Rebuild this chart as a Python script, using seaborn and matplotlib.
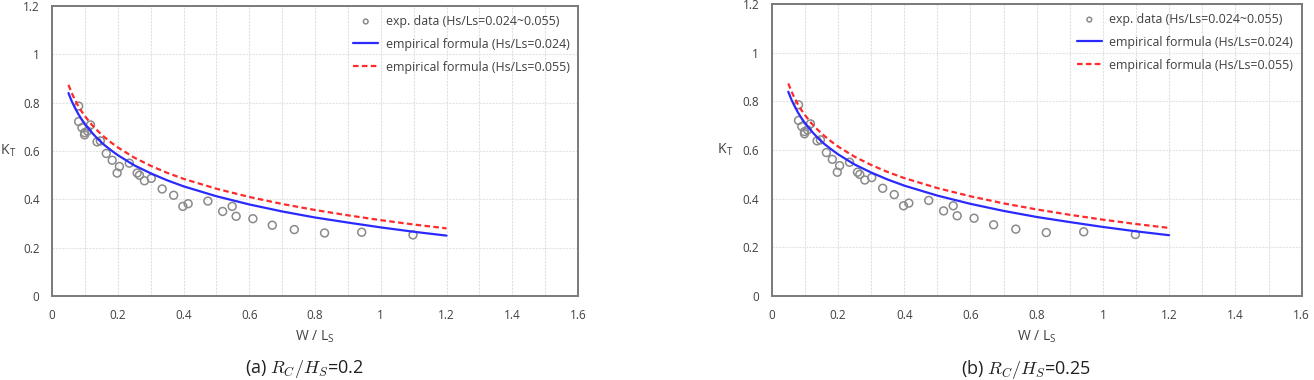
import numpy as np
import pandas as pd
import matplotlib
matplotlib.use("Agg")
import matplotlib.pyplot as plt
import seaborn as sns
from matplotlib.ticker import MultipleLocator

# ---- data ----
exp_x = [0.081, 0.081, 0.091, 0.099, 0.099, 0.108, 0.117, 0.137, 0.147, 0.165,
         0.183, 0.198, 0.205, 0.235, 0.259, 0.266, 0.281, 0.302, 0.335, 0.370,
         0.398, 0.414, 0.474, 0.519, 0.548, 0.560, 0.611, 0.670, 0.737, 0.829,
         0.942, 1.098]
exp_y = [0.786, 0.722, 0.697, 0.676, 0.667, 0.683, 0.708, 0.638, 0.642, 0.590,
         0.562, 0.509, 0.536, 0.550, 0.509, 0.500, 0.477, 0.487, 0.443, 0.417,
         0.371, 0.382, 0.393, 0.350, 0.371, 0.330, 0.320, 0.293, 0.275, 0.261,
         0.264, 0.253]

curve_x = [0.05, 0.06, 0.07, 0.08, 0.09, 0.10, 0.12, 0.14, 0.16, 0.18, 0.20,
           0.25, 0.30, 0.35, 0.40, 0.50, 0.60, 0.70, 0.80, 0.90, 1.00, 1.10, 1.20]
blue_y = [0.840, 0.806, 0.778, 0.753, 0.731, 0.712, 0.678, 0.649, 0.624, 0.603,
          0.583, 0.541, 0.508, 0.479, 0.454, 0.413, 0.379, 0.350, 0.325, 0.304,
          0.284, 0.266, 0.250]
red_y = [0.874, 0.840, 0.811, 0.786, 0.764, 0.745, 0.710, 0.682, 0.657, 0.635,
         0.615, 0.573, 0.539, 0.510, 0.485, 0.444, 0.410, 0.381, 0.356, 0.334,
         0.314, 0.296, 0.280]

panel_captions = ["(a) $R_C/H_S$=0.2", "(b) $R_C/H_S$=0.25"]
legend_labels = ["exp. data (Hs/Ls=0.024~0.055)",
                 "empirical formula (Hs/Ls=0.024)",
                 "empirical formula (Hs/Ls=0.055)"]
x_ticks = [0, 0.2, 0.4, 0.6, 0.8, 1.0, 1.2, 1.4, 1.6]
x_ticklabels = ["0", "0.2", "0.4", "0.6", "0.8", "1", "1.2", "1.4", "1.6"]
y_ticks = [0, 0.2, 0.4, 0.6, 0.8, 1.0, 1.2]
y_ticklabels = ["0", "0.2", "0.4", "0.6", "0.8", "1", "1.2"]

sns.set_theme(style="white")
plt.rcParams['font.family'] = ['Open Sans', 'DejaVu Sans']
plt.rcParams['mathtext.fontset'] = 'cm'

fig = plt.figure(figsize=(13.14, 3.8), dpi=100)
axes_pos = [[0.0396, 0.221, 0.4003, 0.763], [0.5873, 0.221, 0.4033, 0.768]]
ylabel_x = [-0.083, -0.088]

exp_df = pd.DataFrame({"x": exp_x, "y": exp_y})
cur_df = pd.DataFrame({"x": curve_x, "blue": blue_y, "red": red_y})

for i, pos in enumerate(axes_pos):
    ax = fig.add_axes(pos)
    ax.set_xlim(0, 1.6)
    ax.set_ylim(0, 1.2)
    ax.grid(True, which="both", axis="x", color="#e0e0e0", linestyle=(0, (2, 1)), linewidth=0.8)
    ax.grid(True, which="major", axis="y", color="#e4e4e4", linestyle=(0, (2, 1)), linewidth=0.8)
    ax.set_axisbelow(True)

    sns.scatterplot(data=exp_df, x="x", y="y", ax=ax, marker="o", s=32,
                    facecolor="none", edgecolor="#8a8a8a", linewidth=1.1,
                    label=legend_labels[0], zorder=3)
    sns.lineplot(data=cur_df, x="x", y="blue", ax=ax, color="#2a2aff",
                 linewidth=1.6, label=legend_labels[1], zorder=4)
    sns.lineplot(data=cur_df, x="x", y="red", ax=ax, color="#ff2a2a",
                 linewidth=1.6, linestyle=(0, (2.5, 1.5)), label=legend_labels[2], zorder=4)

    for s in ax.spines.values():
        s.set_color("#7a7a7a")
        s.set_linewidth(1.4)
    ax.set_yticks(y_ticks)
    ax.set_yticklabels(y_ticklabels)
    ax.set_xticks(x_ticks)
    ax.set_xticklabels(x_ticklabels)
    ax.xaxis.set_minor_locator(MultipleLocator(0.1))
    ax.grid(True, which="minor", axis="x", color="#e0e0e0", linestyle=(0, (2, 1)), linewidth=0.8)
    ax.tick_params(axis="both", which="both", length=0, labelsize=8.5,
                   labelcolor="#404040")
    ax.tick_params(axis="x", pad=9)
    ax.tick_params(axis="y", pad=9)
    ax.set_xlabel("W / L$_\\mathregular{S}$", fontsize=10, color="#404040", labelpad=5)
    ax.set_ylabel("K$_\\mathregular{T}$", fontsize=10, color="#404040", rotation=0,
                  va="center", ha="center")
    ax.yaxis.set_label_coords(ylabel_x[i], 0.5)

    ax.legend(loc="upper right", frameon=False, fontsize=8.9, labelcolor="#404040",
              handlelength=2.0, handletextpad=0.6, labelspacing=0.8,
              borderaxespad=0.3, markerscale=0.6)

    cx = pos[0] + pos[2] / 2 - 0.008
    fig.text(cx, 0.028, panel_captions[i], ha="center", va="center", fontsize=13,
             color="#202020")

fig.savefig("out.png", dpi=100)
